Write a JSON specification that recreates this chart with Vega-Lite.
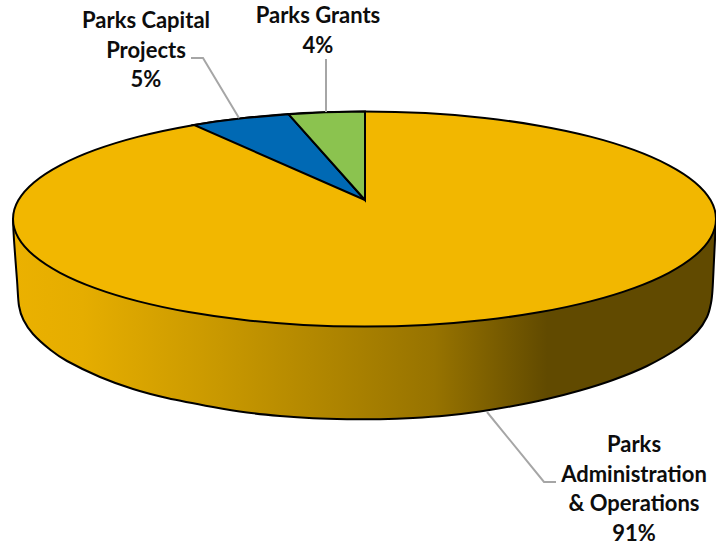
{
  "$schema": "https://vega.github.io/schema/vega-lite/v6.json",
  "width": 716,
  "height": 549,
  "padding": 0,
  "autosize": {"type": "none"},
  "background": "white",
  "config": {"view": {"stroke": null}},
  "datasets": {
    "wall": [
      {"seq":1,"x":13,"y":219},{"seq":2,"x":14,"y":240},{"seq":3,"x":17,"y":280},{"seq":4,"x":19,"y":306},{"seq":5,"x":23.5,"y":320},{"seq":6,"x":33,"y":334},{"seq":7,"x":50,"y":349.5},{"seq":8,"x":67,"y":361},{"seq":9,"x":100,"y":377},{"seq":10,"x":133,"y":389},{"seq":11,"x":167,"y":398},{"seq":12,"x":213,"y":407},{"seq":13,"x":247,"y":412.5},{"seq":14,"x":280,"y":416},{"seq":15,"x":313,"y":418.3},{"seq":16,"x":347,"y":419.2},{"seq":17,"x":380,"y":419.2},{"seq":18,"x":413,"y":418},{"seq":19,"x":447,"y":415.5},{"seq":20,"x":480,"y":411.5},{"seq":21,"x":513,"y":406},{"seq":22,"x":547,"y":399},{"seq":23,"x":580,"y":390.5},{"seq":24,"x":613,"y":380},{"seq":25,"x":647,"y":366},{"seq":26,"x":680,"y":347},{"seq":27,"x":697,"y":332},{"seq":28,"x":707,"y":317},{"seq":29,"x":711,"y":303},{"seq":30,"x":712.5,"y":290},{"seq":31,"x":714,"y":260},{"seq":32,"x":716,"y":219}
    ],
    "top": [
      {"seq":1,"x":716,"y":219},{"seq":2,"x":710.7,"y":200.3},{"seq":3,"x":694.8,"y":182.2},{"seq":4,"x":668.9,"y":165.3},{"seq":5,"x":633.8,"y":149.9},{"seq":6,"x":590.4,"y":136.6},{"seq":7,"x":540.3,"y":125.9},{"seq":8,"x":484.7,"y":118},{"seq":9,"x":425.5,"y":113.1},{"seq":10,"x":364.5,"y":111.5},{"seq":11,"x":303.5,"y":113.1},{"seq":12,"x":244.3,"y":118},{"seq":13,"x":188.7,"y":125.9},{"seq":14,"x":138.6,"y":136.6},{"seq":15,"x":95.2,"y":149.9},{"seq":16,"x":60.1,"y":165.3},{"seq":17,"x":34.2,"y":182.2},{"seq":18,"x":18.3,"y":200.3},{"seq":19,"x":13,"y":219},{"seq":20,"x":18.3,"y":237.7},{"seq":21,"x":34.2,"y":255.8},{"seq":22,"x":60.1,"y":272.8},{"seq":23,"x":95.2,"y":288.1},{"seq":24,"x":138.6,"y":301.4},{"seq":25,"x":188.7,"y":312.1},{"seq":26,"x":244.3,"y":320},{"seq":27,"x":303.5,"y":324.9},{"seq":28,"x":364.5,"y":326.5},{"seq":29,"x":425.5,"y":324.9},{"seq":30,"x":484.7,"y":320},{"seq":31,"x":540.3,"y":312.1},{"seq":32,"x":590.4,"y":301.4},{"seq":33,"x":633.8,"y":288.1},{"seq":34,"x":668.9,"y":272.8},{"seq":35,"x":694.8,"y":255.8},{"seq":36,"x":710.7,"y":237.7}
    ],
    "wedges": [
      {"slice":"Parks Capital Projects","seq":1,"x":365,"y":200},{"slice":"Parks Capital Projects","seq":2,"x":288.7,"y":114.3},{"slice":"Parks Capital Projects","seq":3,"x":244.3,"y":118},{"slice":"Parks Capital Projects","seq":4,"x":216,"y":121.5},{"slice":"Parks Capital Projects","seq":5,"x":194,"y":125},
      {"slice":"Parks Grants","seq":1,"x":365,"y":200},{"slice":"Parks Grants","seq":2,"x":365,"y":111.5},{"slice":"Parks Grants","seq":3,"x":325,"y":112.3},{"slice":"Parks Grants","seq":4,"x":288.7,"y":114.3}
    ],
    "leaders": [
      {"slice":"Parks Grants","seq":1,"x":326,"y":59},{"slice":"Parks Grants","seq":2,"x":326,"y":112},
      {"slice":"Parks Capital Projects","seq":1,"x":191,"y":58},{"slice":"Parks Capital Projects","seq":2,"x":203,"y":58},{"slice":"Parks Capital Projects","seq":3,"x":239,"y":118},
      {"slice":"Parks Administration & Operations","seq":1,"x":487,"y":412},{"slice":"Parks Administration & Operations","seq":2,"x":544,"y":482},{"slice":"Parks Administration & Operations","seq":3,"x":556,"y":482}
    ],
    "labels": [
      {"label":"Parks Grants\n4%","x":318,"y":16},
      {"label":"Parks Capital\nProjects\n5%","x":146,"y":21},
      {"label":"Parks\nAdministration\n& Operations\n91%","x":634,"y":445}
    ]
  },
  "encoding": {
    "x": {"field":"x","type":"quantitative","scale":{"domain":[0,716],"nice":false,"zero":false},"axis":null},
    "y": {"field":"y","type":"quantitative","scale":{"domain":[549,0],"nice":false,"zero":false},"axis":null}
  },
  "layer": [
    {
      "description": "Shaded rim of the disc",
      "data": {"name":"wall"},
      "mark": {
        "type":"line","interpolate":"cardinal","stroke":"#000000","strokeWidth":2,
        "fill": {"gradient":"linear","x1":0,"y1":0,"x2":1,"y2":0,"stops":[
          {"offset":0,"color":"#EBB100"},
          {"offset":0.1,"color":"#E5AD00"},
          {"offset":0.27,"color":"#CC9B00"},
          {"offset":0.6,"color":"#977300"},
          {"offset":0.76,"color":"#614A00"},
          {"offset":1,"color":"#614A00"}
        ]}
      },
      "encoding": {"order":{"field":"seq","type":"quantitative"}}
    },
    {
      "description": "Top face, carrying the largest slice",
      "data": {"name":"top"},
      "mark": {"type":"line","interpolate":"cardinal-closed","fill":"#F2B700","stroke":"#000000","strokeWidth":2},
      "encoding": {"order":{"field":"seq","type":"quantitative"}}
    },
    {
      "description": "The two small slices",
      "data": {"name":"wedges"},
      "mark": {"type":"line","interpolate":"linear-closed","stroke":"#000000","strokeWidth":2,"strokeJoin":"miter"},
      "encoding": {
        "order":{"field":"seq","type":"quantitative"},
        "fill":{"field":"slice","type":"nominal","legend":null,"scale":{"domain":["Parks Capital Projects","Parks Grants"],"range":["#0069B4","#8BC34F"]}}
      }
    },
    {
      "description": "Leader lines from labels to slices",
      "data": {"name":"leaders"},
      "mark": {"type":"line","stroke":"#A6A6A6","strokeWidth":2,"strokeJoin":"miter"},
      "encoding": {
        "order":{"field":"seq","type":"quantitative"},
        "detail":{"field":"slice","type":"nominal"}
      }
    },
    {
      "description": "Slice names and shares",
      "data": {"name":"labels"},
      "mark": {"type":"text","font":"Lato","fontWeight":"bold","fontSize":22,"lineHeight":29.5,"lineBreak":"\n","align":"center","baseline":"middle","color":"#0D0D0D"},
      "encoding": {"text":{"field":"label","type":"nominal"}}
    }
  ]
}
